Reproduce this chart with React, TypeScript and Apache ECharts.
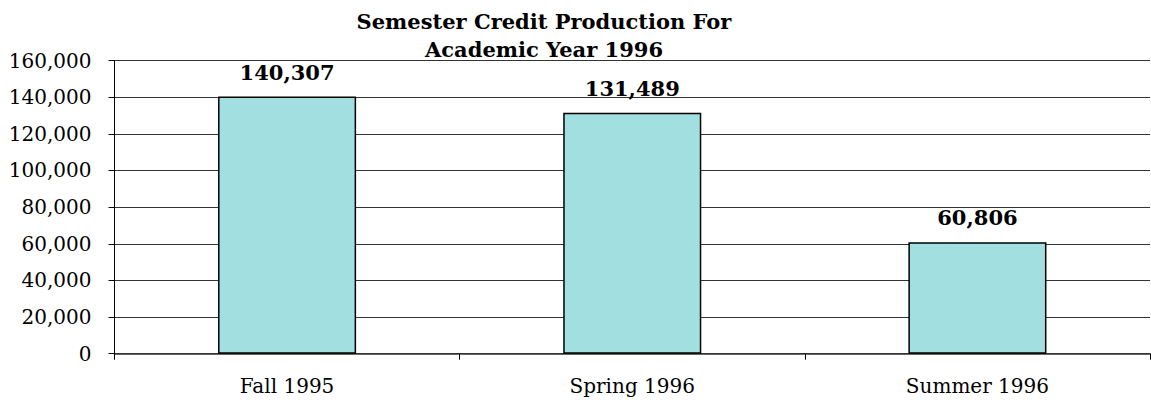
import React, { useEffect, useRef } from "react";
import * as echarts from "echarts";

const categories = ["Fall 1995", "Spring 1996", "Summer 1996"];
const credits = [140307, 131489, 60806];
const titleLines = ["Semester Credit Production For", "Academic Year 1996"];

const FONT = "'DejaVu Serif', serif";

export default function App() {
  const ref = useRef<HTMLDivElement>(null);
  useEffect(() => {
    if (!ref.current) return;
    const chart = echarts.init(ref.current, undefined, { renderer: "svg" });
    chart.setOption({
      animation: false,
      backgroundColor: "#ffffff",
      title: {
        text: titleLines.join("\n"),
        left: 544,
        top: 7,
        textAlign: "center",
        padding: 0,
        textStyle: {
          fontFamily: FONT,
          fontWeight: "bold",
          fontSize: 21,
          lineHeight: 28,
          color: "#000",
        },
      },
      grid: { left: 114.5, right: 1, top: 60.5, bottom: 46.3, containLabel: false },
      xAxis: {
        type: "category",
        data: categories,
        axisLine: { lineStyle: { color: "#333", width: 1.5 } },
        axisTick: { show: true, length: 6, lineStyle: { color: "#000" } },
        axisLabel: { fontFamily: FONT, fontSize: 20, color: "#000", margin: 22 },
      },
      yAxis: {
        type: "value",
        min: 0,
        max: 160000,
        interval: 20000,
        axisLine: { show: true, lineStyle: { color: "#000", width: 1 } },
        axisTick: { show: true, length: 6, lineStyle: { color: "#000" } },
        axisLabel: {
          fontFamily: FONT,
          fontSize: 20,
          color: "#000",
          margin: 23,
          formatter: (v: number) => v.toLocaleString("en-US"),
        },
        splitLine: { lineStyle: { color: "#333", width: 1 } },
      },
      series: [
        {
          type: "bar",
          data: credits,
          barWidth: "40%",
          itemStyle: { color: "#a2dfe0", borderColor: "#000", borderWidth: 1.5 },
          label: {
            show: true,
            position: "top",
            distance: 14,
            fontFamily: FONT,
            fontWeight: "bold",
            fontSize: 21,
            color: "#000",
            formatter: (p: any) => Number(p.value).toLocaleString("en-US"),
          },
        },
      ],
    });
    return () => chart.dispose();
  }, []);
  return (
    <div
      ref={ref}
      style={{ position: "fixed", left: 0, top: 0, width: 1151, height: 400 }}
    />
  );
}
